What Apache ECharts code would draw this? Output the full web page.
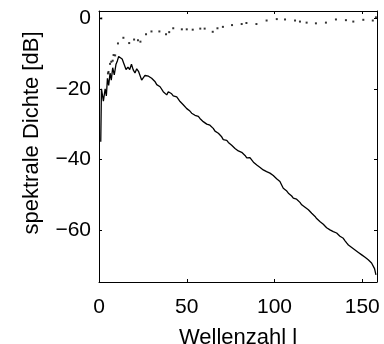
<!DOCTYPE html>
<html>
<head>
<meta charset="utf-8">
<script src="https://cdn.jsdelivr.net/npm/echarts@6/dist/echarts.min.js"></script>
<style>html,body{margin:0;padding:0;background:#fff}#c{width:384px;height:344px}</style>
</head>
<body>
<div id="c"></div>
<script>
var xTicks = [0, 50, 100, 150];
var yTicks = [-60, -40, -20, 0];
var xName = 'Wellenzahl l';
var yName = 'spektrale Dichte [dB]';

var lineL = [1,1.4,2.5,3.5,4.2,4.8,5.5,6.3,7,7.8,8.7,9.7,10.5,11.2,12.2,13.2,14.3,15.4,16.5,17.5,18.5,19.5,20.5,21.5,22.5,23.4,24.3,25.2,26.2,27.2,28.2,29,30,31,32,32.9,34,34.8,35.7,36.6,37.6,38.6,39.5,40.5,41.4,42.3,43.3,44.3,45.2,46.2,47.1,48,49,50,50.9,51.8,52.8,53.8,54.7,55.7,56.6,57.5,58.5,59.4,60.4,61.4,62.3,63.2,64.2,65.1,66.1,67.1,68,68.9,69.9,70.8,71.8,72.8,73.7,74.6,75.6,76.5,77.5,78.5,79.4,80.3,81.3,82.2,83.2,84.2,85.1,86,87,88,89,89.9,90.8,91.8,92.7,93.6,94.6,95.5,96.5,97.4,98.4,99.3,100.3,101.2,102.2,103.1,104,105,106,107,107.9,108.8,109.8,110.7,111.7,112.6,113.6,114.5,115.5,116.4,117.4,118.3,119.3,120.2,121.2,122.1,123.1,124,125,126,126.9,127.8,128.8,129.7,130.7,131.6,132.6,133.5,134.5,135.4,136.4,137.3,138.3,139.2,140.2,141.1,142.1,143,144,144.9,145.9,146.8,147.8,148.7,149.7,150.6,151.6,152.5,153.4,154.4,155.3,156.3,157,157.8];
var lineDB = [-35,-20,-23.5,-20,-22,-17,-19,-15.5,-17.5,-14,-16,-13,-12,-10.8,-10.4,-11.5,-13,-14.5,-13.8,-14.5,-13,-14.6,-15.5,-14.3,-15,-15.5,-17.5,-17.2,-16.2,-15.8,-16.4,-16.8,-17,-17.4,-18,-18.8,-19,-19.4,-19.8,-20.8,-21,-21.7,-20.8,-21.2,-21.4,-22,-21.8,-22.3,-22.8,-23.6,-24,-24.5,-25,-25.6,-26,-26.3,-26.9,-27.2,-27.5,-27.9,-27.8,-28.4,-28.8,-29.3,-29.6,-30,-30,-30.3,-30.8,-31.2,-32,-32.4,-32.6,-33,-33.6,-34.4,-34.2,-34.6,-35.2,-35.7,-36,-36.5,-36.9,-37.3,-37.6,-37.8,-38,-38.3,-38.9,-39.6,-39.2,-39.5,-40,-40.8,-41.2,-41.6,-41.9,-42.3,-42.6,-43,-43.2,-43.5,-43.7,-43.9,-44.3,-44.6,-44.9,-45.5,-46,-46.3,-47.2,-48.2,-48.2,-49,-49.6,-49.2,-50.4,-51,-51.2,-51.3,-51.5,-52.2,-52.9,-53.2,-53.6,-54,-54.3,-54.8,-55.3,-55.7,-56.2,-56.8,-57.3,-57.7,-58.1,-58.4,-58.9,-59.4,-59.8,-60,-60.2,-60.5,-60.7,-60.9,-61.4,-61.8,-62.1,-62.4,-63.1,-63.7,-64.3,-64.7,-65,-65.4,-65.7,-65.9,-66.4,-66.8,-67.1,-67.5,-67.8,-68.2,-68.5,-68.9,-69.4,-69.9,-71,-72.8];

var dotL = [1.3,5.1,5.4,6.3,7,7.8,8.3,9.2,10.8,13.9,17.2,20,22.2,23.6,26.8,29.9,34.4,38.2,40,42.3,47.2,50,53.4,57.7,60.2,64.8,67.5,70.6,75.8,81.3,84,89.7,95.5,101.3,106,111.7,114.5,118.3,123.6,129.3,135,140.7,144.9,150.6,156,157.8];
var dotDB = [0,-15.6,-15.2,-12.9,-12.3,-12,-10.4,-10.5,-7.1,-5.5,-7,-6,-6.2,-6.6,-4.5,-3.7,-3.7,-4.5,-3.9,-2.8,-3.1,-3.1,-3.2,-2.9,-2.9,-3.8,-2.8,-2.4,-1.9,-1.6,-1.3,-1.6,-0.6,-0.2,-0.3,-0.6,-0.9,-1.2,-1.4,-1.2,-0.3,-0.5,-0.9,-0.4,-0.6,0.3];

function pairs(a, b) { return a.map(function (v, i) { return [v, b[i]]; }); }
function fmt(v) { return String(v).replace('-', '\u2212'); }

var FONT = 'Liberation Sans, Arial, sans-serif';
var XMIN = 0, XMAX = 158.4, YMIN = -74.8, YMAX = 2.1;

function xAx(pos, show) {
  return {
    type: 'value', position: pos, min: XMIN, max: XMAX,
    axisLine: { show: true, onZero: false, lineStyle: { color: '#000', width: 1 } },
    axisTick: { show: true, inside: true, length: 3, customValues: xTicks, lineStyle: { color: '#000' } },
    axisLabel: { show: show, customValues: xTicks, margin: 15, color: '#000', fontSize: 21, fontFamily: FONT },
    splitLine: { show: false }
  };
}
function yAx(pos, show) {
  return {
    type: 'value', position: pos, min: YMIN, max: YMAX,
    axisLine: { show: true, onZero: false, lineStyle: { color: '#000', width: 1 } },
    axisTick: { show: true, inside: true, length: 3, customValues: yTicks, lineStyle: { color: '#000' } },
    axisLabel: { show: show, customValues: yTicks, margin: 8, padding: [8, 0, 0, 0], color: '#000', fontSize: 21, fontFamily: FONT, formatter: fmt },
    splitLine: { show: false }
  };
}

var xa0 = xAx('bottom', true);
xa0.name = xName; xa0.nameLocation = 'middle'; xa0.nameGap = 45;
xa0.nameTextStyle = { color: '#000', fontSize: 22, fontFamily: FONT };

var chart = echarts.init(document.getElementById('c'), null, { renderer: 'canvas' });
chart.setOption({
  animation: false,
  backgroundColor: '#fff',
  grid: { left: 99, right: 7, top: 11, bottom: 62, containLabel: false, outerBoundsMode: 'none' },
  xAxis: [xa0, xAx('top', false)],
  yAxis: [yAx('left', true), yAx('right', false)],
  graphic: [{
    type: 'text', x: 32, y: 133, rotation: Math.PI / 2,
    style: { text: yName, x: 0, y: 0, align: 'center', verticalAlign: 'middle', fill: '#000', font: '22px ' + FONT }
  }],
  series: [
    { type: 'line', data: pairs(lineL, lineDB), showSymbol: false, symbol: 'none',
      lineStyle: { color: '#000', width: 1.3 }, clip: true },
    { type: 'scatter', data: pairs(dotL, dotDB), symbol: 'rect', symbolSize: 2,
      itemStyle: { color: '#000' }, clip: true }
  ]
});
</script>
</body>
</html>
